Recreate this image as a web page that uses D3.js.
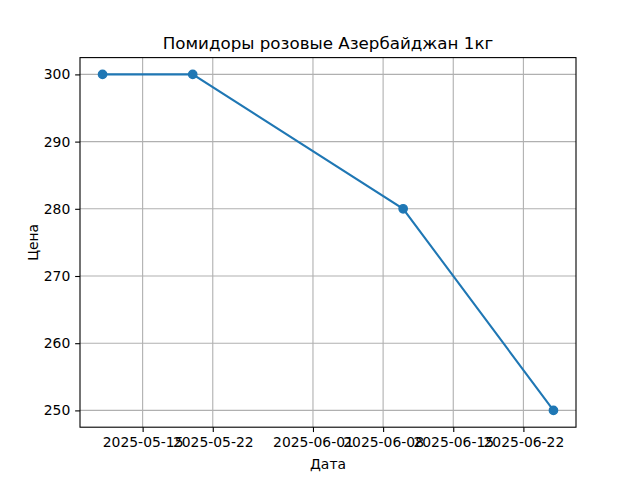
<!DOCTYPE html>
<html><head><meta charset="utf-8">
<script src="https://cdn.jsdelivr.net/npm/d3@7"></script>
<style>body{margin:0;background:#fff}svg{display:block;font-family:"DejaVu Sans",sans-serif}</style>
</head><body>
<script>
const dates = ["2025-05-11","2025-05-20","2025-06-10","2025-06-25"];
const prices = [300, 300, 280, 250];
const xTickLabels = ["2025-05-15","2025-05-22","2025-06-01","2025-06-08","2025-06-15","2025-06-22"];
const yTicks = [250, 260, 270, 280, 290, 300];
const title = "Помидоры розовые Азербайджан 1кг";
const xLabel = "Дата";
const yLabel = "Цена";

const W = 640, H = 480;
const m = {l: 80, r: 576, t: 57.6, b: 427.2};
const parse = d3.utcParse("%Y-%m-%d");
const data = dates.map((d, i) => ({date: parse(d), v: prices[i]}));

const svg = d3.select("body").append("svg").attr("width", W).attr("height", H);

const xExt = d3.extent(data, d => d.date);
const span = xExt[1] - xExt[0];
const x = d3.scaleUtc().domain([new Date(+xExt[0] - span*0.05), new Date(+xExt[1] + span*0.05)]).range([m.l, m.r]);
const yExt = d3.extent(data, d => d.v);
const ys = yExt[1] - yExt[0];
const y = d3.scaleLinear().domain([yExt[0] - ys*0.05, yExt[1] + ys*0.05]).range([m.b, m.t]);

const xTicks = xTickLabels.map(parse);
const fmt = d3.utcFormat("%Y-%m-%d");

// grid
svg.append("g").selectAll("line").data(xTicks).join("line")
  .attr("x1", d => x(d)).attr("x2", d => x(d)).attr("y1", m.t).attr("y2", m.b)
  .attr("stroke", "#b0b0b0").attr("stroke-width", 1.1);
svg.append("g").selectAll("line").data(yTicks).join("line")
  .attr("y1", d => y(d)).attr("y2", d => y(d)).attr("x1", m.l).attr("x2", m.r)
  .attr("stroke", "#b0b0b0").attr("stroke-width", 1.1);

// axes
const xAxis = d3.axisBottom(x).tickValues(xTicks).tickFormat(fmt).tickSize(4.86).tickPadding(4.86);
const gx = svg.append("g").attr("transform", `translate(0,${m.b})`).call(xAxis);
const yAxis = d3.axisLeft(y).tickValues(yTicks).tickFormat(d3.format("d")).tickSize(4.86).tickPadding(4.86);
const gy = svg.append("g").attr("transform", `translate(${m.l},0)`).call(yAxis);
[gx, gy].forEach(g => {
  g.select(".domain").remove();
  g.selectAll(".tick line").attr("stroke", "#000").attr("stroke-width", 1.1);
  g.selectAll(".tick text").attr("fill", "#000").attr("font-size", 13.9).attr("font-family", "DejaVu Sans");
});

// frame
svg.append("rect").attr("x", m.l).attr("y", m.t).attr("width", m.r - m.l).attr("height", m.b - m.t)
  .attr("fill", "none").attr("stroke", "#000").attr("stroke-width", 1.1);

// line + markers
svg.append("path").datum(data)
  .attr("d", d3.line().x(d => x(d.date)).y(d => y(d.v)))
  .attr("fill", "none").attr("stroke", "#1f77b4").attr("stroke-width", 2.08);
svg.append("g").selectAll("circle").data(data).join("circle")
  .attr("cx", d => x(d.date)).attr("cy", d => y(d.v)).attr("r", 4.17)
  .attr("fill", "#1f77b4").attr("stroke", "#1f77b4").attr("stroke-width", 1.39);

// labels
svg.append("text").attr("x", (m.l + m.r)/2).attr("y", 49.3).attr("text-anchor", "middle")
  .attr("font-size", 16.7).text(title);
svg.append("text").attr("x", (m.l + m.r)/2).attr("y", 468.5).attr("text-anchor", "middle")
  .attr("font-size", 13.9).text(xLabel);
svg.append("text").attr("transform", `translate(37.5,${(m.t + m.b)/2}) rotate(-90)`).attr("text-anchor", "middle")
  .attr("font-size", 13.9).text(yLabel);
</script>
</body></html>
